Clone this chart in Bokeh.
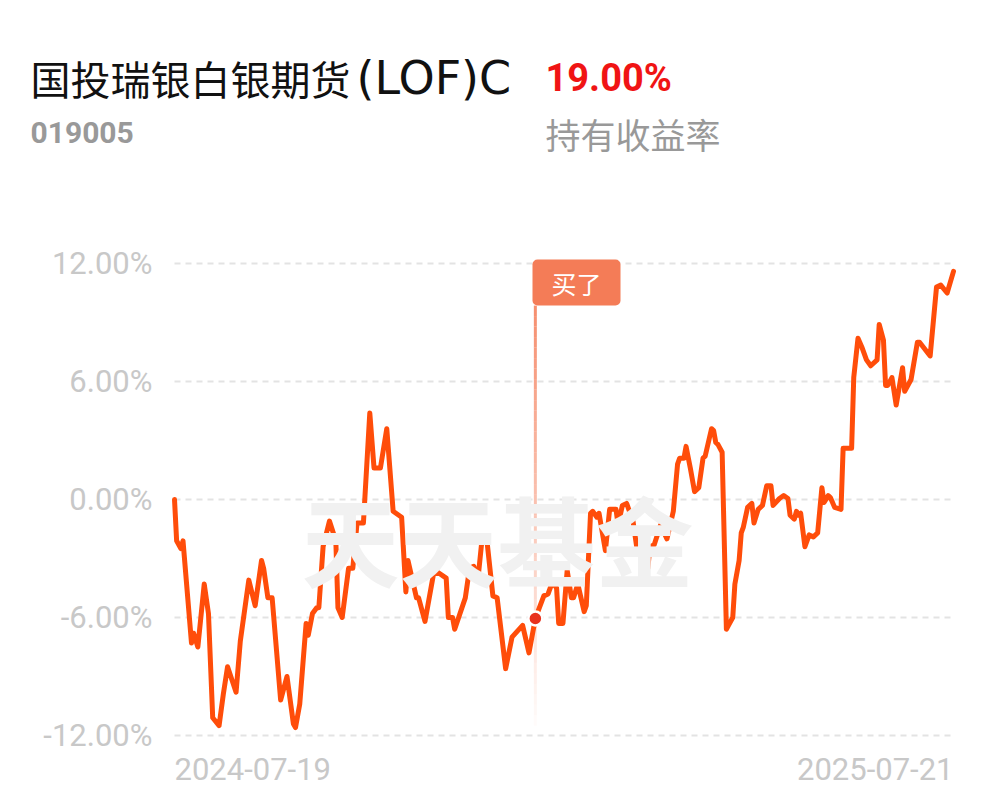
import numpy as np
import pandas as pd
from bokeh.plotting import figure
from bokeh.models import Range1d, Label, ColumnDataSource
from bokeh.embed import file_html
from bokeh.resources import INLINE

fund_name = "国投瑞银白银期货(LOF)C"
fund_code = "019005"
hold_return = 19.00
hold_label = "持有收益率"
buy_text = "买了"
buy_date = "2025-01-05"
watermark = "天天基金"

dates = [
    "2024-07-19", "2024-07-20", "2024-07-22", "2024-07-23", "2024-07-27", "2024-07-28", "2024-07-30",
    "2024-08-02", "2024-08-04", "2024-08-06", "2024-08-09", "2024-08-11", "2024-08-13", "2024-08-17",
    "2024-08-19", "2024-08-23", "2024-08-26", "2024-08-29", "2024-08-30",
    "2024-09-01", "2024-09-03", "2024-09-07", "2024-09-10", "2024-09-13", "2024-09-14", "2024-09-16",
    "2024-09-19", "2024-09-20", "2024-09-22", "2024-09-24", "2024-09-25", "2024-09-27", "2024-09-30",
    "2024-10-03", "2024-10-04", "2024-10-06", "2024-10-09", "2024-10-11", "2024-10-13", "2024-10-16",
    "2024-10-19", "2024-10-21", "2024-10-24", "2024-10-27", "2024-10-30",
    "2024-11-03", "2024-11-05", "2024-11-06", "2024-11-10", "2024-11-11", "2024-11-14", "2024-11-18",
    "2024-11-20", "2024-11-24", "2024-11-25", "2024-11-27", "2024-11-28",
    "2024-12-03", "2024-12-05", "2024-12-07", "2024-12-09", "2024-12-11", "2024-12-13", "2024-12-16",
    "2024-12-18", "2024-12-22", "2024-12-25", "2024-12-30",
    "2025-01-02", "2025-01-05", "2025-01-09", "2025-01-11", "2025-01-13", "2025-01-15", "2025-01-16",
    "2025-01-18", "2025-01-20", "2025-01-22", "2025-01-23", "2025-01-25", "2025-01-28", "2025-01-29",
    "2025-01-31",
    "2025-02-01", "2025-02-03", "2025-02-04", "2025-02-07", "2025-02-09", "2025-02-12", "2025-02-13",
    "2025-02-15", "2025-02-17", "2025-02-20", "2025-02-22", "2025-02-24", "2025-02-27", "2025-02-28",
    "2025-03-02", "2025-03-05", "2025-03-08", "2025-03-11", "2025-03-13", "2025-03-14", "2025-03-16",
    "2025-03-17", "2025-03-19", "2025-03-21", "2025-03-23", "2025-03-25", "2025-03-26", "2025-03-29",
    "2025-03-30", "2025-03-31",
    "2025-04-01", "2025-04-03", "2025-04-05", "2025-04-06", "2025-04-08", "2025-04-09", "2025-04-11",
    "2025-04-12", "2025-04-13", "2025-04-15", "2025-04-17", "2025-04-18", "2025-04-20", "2025-04-22",
    "2025-04-24", "2025-04-26", "2025-04-27", "2025-04-30",
    "2025-05-02", "2025-05-04", "2025-05-05", "2025-05-07", "2025-05-08", "2025-05-09", "2025-05-10",
    "2025-05-12", "2025-05-14", "2025-05-16", "2025-05-18", "2025-05-20", "2025-05-21", "2025-05-23",
    "2025-05-24", "2025-05-26", "2025-05-29", "2025-05-30",
    "2025-06-02", "2025-06-03", "2025-06-04", "2025-06-06", "2025-06-08", "2025-06-10", "2025-06-12",
    "2025-06-15", "2025-06-16", "2025-06-18", "2025-06-19", "2025-06-20", "2025-06-22", "2025-06-24",
    "2025-06-27", "2025-06-28",
    "2025-07-01", "2025-07-04", "2025-07-05", "2025-07-10", "2025-07-13", "2025-07-15", "2025-07-18",
    "2025-07-21",
]

returns = [
    0.0, -2.1, -2.5, -2.1, -7.3, -6.8, -7.5,
    -4.3, -5.8, -11.1, -11.5, -9.9, -8.5, -9.8,
    -7.2, -4.1, -5.4, -3.1, -3.5,
    -5.0, -5.0, -10.2, -9.0, -11.4, -11.6, -10.4,
    -6.3, -6.9, -5.8, -5.5, -5.5, -2.4, -1.1,
    -2.1, -5.5, -6.0, -3.5, -3.5, -1.2, -1.2,
    4.4, 1.6, 1.6, 3.6, -0.6,
    -0.9, -4.7, -3.1, -5.0, -5.0, -6.2, -3.8,
    -3.7, -4.0, -6.0, -6.0, -6.6,
    -5.0, -3.5, -3.4, -4.0, -1.9, -1.9, -4.9,
    -5.0, -8.6, -7.0, -6.4,
    -7.8, -6.05, -4.9, -4.8, -4.2, -4.5, -6.3,
    -6.3, -3.6, -5.0, -5.0, -4.3, -5.7, -5.4,
    -0.7,
    -0.6, -0.9, -0.7, -2.6, -0.5, -0.5, -1.3,
    -0.3, -0.2, -1.1, -2.6, -2.9, -3.5, -2.4,
    -2.3, -1.3, -2.0, -0.6, 1.8, 2.1, 2.1,
    2.7, 1.6, 0.4, 0.6, 2.1, 2.2, 3.6,
    3.5, 2.9,
    2.8, 2.4, -6.6, -6.4, -6.0, -4.3, -3.1,
    -1.7, -1.4, -0.4, -0.2, -1.2, -0.5, -0.3,
    0.7, 0.7, -0.3, 0.05,
    0.2, 0.05, -0.8, -1.0, -0.6, -0.8, -0.7,
    -2.4, -1.8, -1.9, -1.7, 0.6, -0.15, 0.2,
    0.1, -0.4, -0.5, 2.6,
    2.6, 2.6, 6.2, 8.2, 7.7, 7.1, 6.8,
    7.1, 8.9, 8.1, 5.8, 5.8, 6.2, 4.8,
    6.7, 5.5,
    6.1, 8.0, 8.0, 7.3, 10.8, 10.9, 10.5,
    11.6,
]

y_ticks = [12, 6, 0, -6, -12]
y_tick_labels = ["12.00%", "6.00%", "0.00%", "-6.00%", "-12.00%"]

x = pd.to_datetime(dates)
t0, t1 = x[0], x[-1]
src = ColumnDataSource(dict(x=x, y=returns))

W, H = 990, 800
p = figure(width=W, height=H, x_axis_type="datetime", output_backend="svg",
           toolbar_location=None, x_axis_location=None, y_axis_location=None,
           min_border=0, min_border_left=0, min_border_right=0,
           min_border_top=0, min_border_bottom=0)
p.outline_line_color = None
p.background_fill_color = "white"
p.border_fill_color = "white"
p.grid.grid_line_color = None
p.x_range = Range1d(t0 - pd.Timedelta(days=81.98), t1 + pd.Timedelta(days=17.43))
p.y_range = Range1d(-15.305, 25.373)

# watermark
p.add_layout(Label(x=497, y=-1.93, x_units="screen", text=watermark,
                   text_font="Noto Sans CJK SC", text_font_style="bold",
                   text_font_size="98px", text_color="#f1f1f1",
                   text_align="center", text_baseline="middle"))

# grid lines
p.segment(x0=[t0] * len(y_ticks), x1=[t1] * len(y_ticks), y0=y_ticks, y1=y_ticks,
          line_color="#e3e3e3", line_width=2, line_dash="6 5")

# y tick labels
for v, lab in zip(y_ticks, y_tick_labels):
    p.add_layout(Label(x=152, y=v, x_units="screen", text=lab, text_font="Roboto",
                       text_font_size="31px", text_color="#c8c8c8",
                       text_align="right", text_baseline="middle"))

# x labels
p.add_layout(Label(x=t0, y=-13.68, text=dates[0], text_font="Roboto",
                   text_font_size="31px", text_color="#c8c8c8",
                   text_align="left", text_baseline="middle"))
p.add_layout(Label(x=t1, y=-13.68, text=dates[-1], text_font="Roboto",
                   text_font_size="31px", text_color="#c8c8c8",
                   text_align="right", text_baseline="middle"))

# buy marker vertical fading line
bd = pd.Timestamp(buy_date)
bv = returns[dates.index(buy_date)]
n = 40
ys = np.linspace(9.86, -11.5, n + 1)
alphas = np.linspace(0.85, 0.03, n)
p.segment(x0=[bd] * n, x1=[bd] * n, y0=ys[:-1], y1=ys[1:],
          line_color="#f47c57", line_alpha=alphas, line_width=3)

# main line
p.line("x", "y", source=src, line_color="#ff4d0a", line_width=5,
       line_join="round", line_cap="round")

# buy dot
p.scatter(x=[bd], y=[bv], size=14, fill_color="#e8321e", line_color="white", line_width=2.5)

# buy label
p.add_layout(Label(x=532, y=11.03, x_units="screen", text=buy_text,
                   text_font="Noto Sans CJK SC", text_font_size="25px", text_color="white",
                   text_align="left", text_baseline="middle",
                   background_fill_color="#f47c57", background_fill_alpha=1.0,
                   padding=(19, 5), border_radius=5))

# header
cjk_part, latin_part = fund_name[:8], fund_name[8:]
p.add_layout(Label(x=30, y=21.41, x_units="screen", text=cjk_part,
                   text_font="Noto Sans CJK SC", text_font_size="40px", text_color="#111111",
                   text_align="left", text_baseline="middle"))
p.add_layout(Label(x=356, y=21.41, x_units="screen", text=latin_part,
                   text_font="DejaVu Sans", text_font_size="46px", text_color="#111111",
                   text_align="left", text_baseline="middle"))
p.add_layout(Label(x=545, y=21.41, x_units="screen", text=f"{hold_return:.2f}%",
                   text_font="Roboto", text_font_style="bold", text_font_size="38px",
                   text_color="#f01414", text_align="left", text_baseline="middle"))
p.add_layout(Label(x=30, y=18.66, x_units="screen", text=fund_code,
                   text_font="Roboto", text_font_style="bold", text_font_size="30px",
                   text_color="#999999", text_align="left", text_baseline="middle"))
p.add_layout(Label(x=545, y=18.61, x_units="screen", text=hold_label,
                   text_font="Noto Sans CJK SC", text_font_size="35px",
                   text_color="#999999", text_align="left", text_baseline="middle"))

open("out.html", "w").write(file_html(p, INLINE))
